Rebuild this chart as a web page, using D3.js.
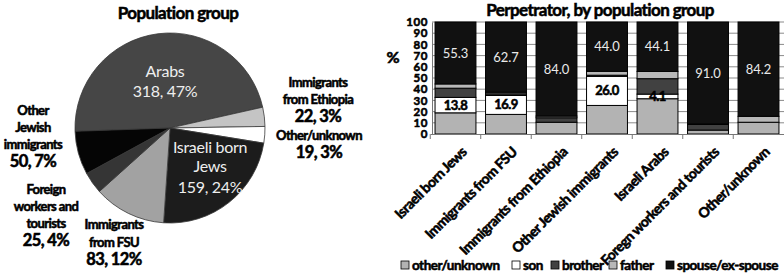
<!DOCTYPE html>
<html><head><meta charset="utf-8">
<script src="https://cdn.jsdelivr.net/npm/d3@7"></script>
<style>
html,body{margin:0;padding:0;background:#fff;}
svg{display:block;}
text{font-family:Lato,"Open Sans",sans-serif;}
.hv{font-weight:bold;stroke:#000;stroke-width:0.55px;}
</style></head>
<body>
<svg id="c" width="784" height="276"></svg>
<script>
// ---------- Pie data ----------
const pieGroups = ["Arabs","Immigrants from Ethiopia","Other/unknown","Israeli born Jews","Immigrants from FSU","Foreign workers and tourists","Other Jewish immigrants"];
const pieCounts = [318,22,19,159,83,25,50];
const piePercents = [47,3,3,24,12,4,7];
const pieColors = ["#464646","#c4c4c4","#ffffff","#1c1c1c","#a2a2a2","#353535","#050505"];

// ---------- Bar data ----------
const barCategories = ["Israeli born Jews","Immigrants from FSU","Immigrants from Ethiopia","Other Jewish immigrants","Israeli Arabs","Foregn workers and tourists","Other/unknown"];
const perpetrators = ["other/unknown","son","brother","father","spouse/ex-spouse"];
const otherUnknown = [18.9,17.5,10.5,25.5,31.5,3.5,10.5];
const son =          [13.8,16.9,0,26.0,4.1,0,0];
const brother =      [8.2,1.5,4.0,1.0,13.8,5.0,0];
const father =       [3.8,1.4,1.5,3.5,6.5,0.5,5.3];
const spouse =       [55.3,62.7,84.0,44.0,44.1,91.0,84.2];
const yTicks = [0,10,20,30,40,50,60,70,80,90,100];
const barColors = ["#b3b3b3","#ffffff","#414141","#b8b8b8","#111111"];

const svg = d3.select("#c");

// ================= PIE =================
const cx = 170, cy = 128, R = 95;
const pie = d3.pie().sort(null).value(d=>d)
  .startAngle(268*Math.PI/180).endAngle((268+360)*Math.PI/180);
const arcs = pie(pieCounts);
const arc = d3.arc().innerRadius(0).outerRadius(R);
const pg = svg.append("g").attr("transform",`translate(${cx},${cy})`);
pg.selectAll("path").data(arcs).join("path")
  .attr("d",arc)
  .attr("fill",(d,i)=>pieColors[i])
  .attr("stroke","#3a3a3a").attr("stroke-width",0.8);

svg.append("text").attr("class","hv").attr("x",178).attr("y",19).attr("text-anchor","middle")
  .attr("font-size",17).attr("letter-spacing",-0.6)
  .text("Population group");

function lines(x, ys, strs, opts){
  strs.forEach((s,i)=>{
    svg.append("text").attr("class",opts.bold?"hv":null).attr("x",x).attr("y",ys[i]).attr("text-anchor","middle")
      .attr("font-size",opts.sizes? opts.sizes[i] : opts.size)
      .attr("letter-spacing",opts.ls||0)
      .attr("font-family",opts.ff||null)
      .attr("fill",opts.fill||"#000").text(s);
  });
}
const lab = (i)=> `${pieCounts[i]}, ${piePercents[i]}%`;
lines(165,[77,97],["Arabs",lab(0)],{size:16,fill:"#eee",ff:"'Open Sans',sans-serif",ls:-0.3});
lines(210,[153,172,193],["Israeli born","Jews",lab(3)],{size:16,fill:"#eee",ff:"'Open Sans',sans-serif",ls:-0.3});
lines(318,[87,104,122],["Immigrants","from Ethiopia",lab(1)],{sizes:[13,13,16.5],bold:true,ls:-0.6});
lines(319,[140,158],["Other/unknown",lab(2)],{sizes:[13,16.5],bold:true,ls:-0.6});
lines(33,[115,132,149,167],["Other","Jewish","immigrants",lab(6)],{sizes:[13,13,13,16.5],bold:true,ls:-0.6});
lines(46,[194,211,228,246],["Foreign","workers and","tourists",lab(5)],{sizes:[13,13,13,16.5],bold:true,ls:-0.6});
lines(114,[229,247,265],["Immigrants","from FSU",lab(4)],{sizes:[13,13,16.5],bold:true,ls:-0.6});

// ================= BARS =================
const x = d3.scaleBand().domain(barCategories).range([431,783]).paddingInner(0.19).paddingOuter(0.08);
const y = d3.scaleLinear().domain([0,100]).range([134,22]);

const bg = svg.append("g");
bg.selectAll("line.grid").data(yTicks.slice(1)).join("line")
  .attr("x1",432).attr("x2",784).attr("y1",d=>y(d)).attr("y2",d=>y(d))
  .attr("stroke","#8a8a8a").attr("stroke-width",1);

const seriesArr = [otherUnknown,son,brother,father,spouse];
const rows = barCategories.map((c,i)=>{
  const o = {cat:c}; perpetrators.forEach((p,j)=>o[p]=seriesArr[j][i]); return o;
});
const stacked = d3.stack().keys(perpetrators)(rows);
stacked.forEach((layer,j)=>{
  bg.selectAll(null).data(layer).join("rect")
    .attr("x",d=>x(d.data.cat)).attr("width",x.bandwidth())
    .attr("y",d=>y(d[1])).attr("height",d=>y(d[0])-y(d[1]))
    .attr("fill",barColors[j]).attr("stroke","#000").attr("stroke-width",1)
    .attr("display",d=>(d[1]-d[0])>0?null:"none");
});
stacked[1].forEach(d=>{
  if(d[1]-d[0]>0){
    bg.append("text").attr("class","hv").attr("x",x(d.data.cat)+x.bandwidth()/2).attr("y",(y(d[0])+y(d[1]))/2)
      .attr("dy","0.35em").attr("text-anchor","middle")
      .attr("font-size",13).attr("letter-spacing",-0.6).text(d3.format(".1f")(d[1]-d[0]));
  }
});
stacked[4].forEach(d=>{
  bg.append("text").attr("x",x(d.data.cat)+x.bandwidth()/2).attr("y",(y(d[0])+y(d[1]))/2)
    .attr("dy","0.35em").attr("text-anchor","middle").attr("fill","#eaeaea")
    .attr("font-size",13).attr("font-family","'Open Sans',sans-serif").text(d3.format(".1f")(d[1]-d[0]));
});

// axes
const yAxis = d3.axisLeft(y).tickValues(yTicks).tickSize(0).tickPadding(4);
const ya = svg.append("g").attr("transform","translate(432,0)").call(yAxis);
ya.select(".domain").attr("stroke","#777");
ya.selectAll("text").attr("class","hv").attr("font-size",11.5).attr("letter-spacing",0.6)
  .attr("font-family","Lato,sans-serif").attr("fill","#000");

svg.append("line").attr("x1",431).attr("x2",784).attr("y1",134.5).attr("y2",134.5).attr("stroke","#777");
const bounds = barCategories.map(c=>x(c)-x.step()*x.paddingInner()/2);
svg.selectAll("line.xt").data(bounds).join("line")
  .attr("x1",d=>d).attr("x2",d=>d).attr("y1",134).attr("y2",139).attr("stroke","#777");

svg.selectAll("text.xl").data(barCategories).join("text")
  .attr("class","hv")
  .attr("transform",d=>`translate(${x(d)+x.bandwidth()/2+5},${146}) rotate(-45)`)
  .attr("text-anchor","end").attr("dy","0.7em")
  .attr("font-size",14).attr("letter-spacing",-0.5)
  .text(d=>d);

svg.append("text").attr("class","hv").attr("x",393).attr("y",63).attr("text-anchor","middle")
  .attr("font-size",16).text("%");

svg.append("text").attr("class","hv").attr("x",600).attr("y",16).attr("text-anchor","middle")
  .attr("font-size",17).attr("letter-spacing",-0.6)
  .text("Perpetrator, by population group");

// legend
const legX = [401,512,551,609,666];
perpetrators.forEach((p,i)=>{
  svg.append("rect").attr("x",legX[i]).attr("y",261).attr("width",8).attr("height",8)
    .attr("fill",barColors[i]).attr("stroke","#000").attr("stroke-width",0.8);
  svg.append("text").attr("class","hv").attr("x",legX[i]+11).attr("y",269.5)
    .attr("font-size",13.5).attr("letter-spacing",-0.5).text(p);
});
</script>
</body></html>
